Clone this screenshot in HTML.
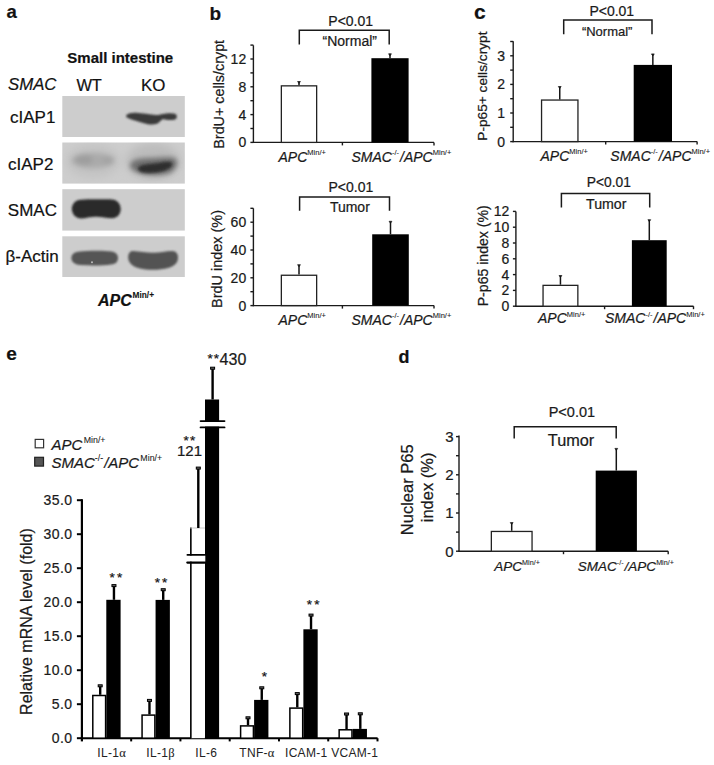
<!DOCTYPE html>
<html><head><meta charset="utf-8"><title>Figure</title>
<style>
html,body{margin:0;padding:0;background:#fff;}
body{width:714px;height:765px;overflow:hidden;}
svg{display:block;font-family:"Liberation Sans", sans-serif;}
text{stroke:#1a1a1a;stroke-width:0.22px;}
tspan[font-size]{stroke-width:0.08px;}
</style></head>
<body>
<svg width="714" height="765" viewBox="0 0 714 765">
<defs>
<clipPath id="p2"><rect x="62.3" y="142.5" width="122.5" height="41.1"/></clipPath>
<filter id="blur05" x="-100%" y="-100%" width="300%" height="300%"><feGaussianBlur stdDeviation="0.5"/></filter>
<filter id="blur1" x="-20%" y="-50%" width="140%" height="200%"><feGaussianBlur stdDeviation="0.9"/></filter>
<filter id="blur2" x="-20%" y="-50%" width="140%" height="200%"><feGaussianBlur stdDeviation="1.6"/></filter>
<filter id="blur3" x="-30%" y="-80%" width="160%" height="260%"><feGaussianBlur stdDeviation="2.6"/></filter>
<filter id="blur4" x="-40%" y="-80%" width="180%" height="260%"><feGaussianBlur stdDeviation="4"/></filter>
</defs>
<rect width="714" height="765" fill="#fff"/>
<text x="6.50" y="18.40" font-size="18.5" text-anchor="start" font-weight="bold" font-style="normal" fill="#111" >a</text>
<text x="209.50" y="19.80" font-size="19" text-anchor="start" font-weight="bold" font-style="normal" fill="#111" >b</text>
<text x="474.00" y="19.00" font-size="21" text-anchor="start" font-weight="bold" font-style="normal" fill="#111" >c</text>
<text x="6.30" y="359.70" font-size="19" text-anchor="start" font-weight="bold" font-style="normal" fill="#111" >e</text>
<text x="398.50" y="362.90" font-size="18" text-anchor="start" font-weight="bold" font-style="normal" fill="#111" >d</text>
<text x="67.30" y="63.00" font-size="15" text-anchor="start" font-weight="bold" font-style="normal" fill="#111" >Small intestine</text>
<text x="8.00" y="90.20" font-size="16.8" text-anchor="start" font-weight="normal" font-style="italic" fill="#111" >SMAC</text>
<text x="76.40" y="90.60" font-size="16.4" text-anchor="start" font-weight="normal" font-style="normal" fill="#111" >WT</text>
<text x="141.00" y="90.60" font-size="16.9" text-anchor="start" font-weight="normal" font-style="normal" fill="#111" >KO</text>
<text x="10.00" y="123.00" font-size="17" text-anchor="start" font-weight="normal" font-style="normal" fill="#111" >cIAP1</text>
<text x="8.00" y="169.50" font-size="17" text-anchor="start" font-weight="normal" font-style="normal" fill="#111" >cIAP2</text>
<text x="7.80" y="216.00" font-size="17" text-anchor="start" font-weight="normal" font-style="normal" fill="#111" >SMAC</text>
<text x="5.50" y="261.50" font-size="17" text-anchor="start" font-weight="normal" font-style="normal" fill="#111" >β-Actin</text>
<rect x="62.30" y="96.00" width="122.50" height="41.00" fill="#cdcdcd" stroke="none" stroke-width="0"/>
<rect x="62.30" y="142.50" width="122.50" height="41.10" fill="#cdcdcd" stroke="none" stroke-width="0"/>
<rect x="62.30" y="189.20" width="122.50" height="41.40" fill="#cdcdcd" stroke="none" stroke-width="0"/>
<rect x="62.30" y="236.30" width="122.50" height="40.70" fill="#cdcdcd" stroke="none" stroke-width="0"/>
<g clip-path="url(#p2)">
<g filter="url(#blur4)">
<ellipse cx="93" cy="161" rx="27" ry="17" fill="#c3c3c3"/>
<ellipse cx="153" cy="161" rx="27" ry="18" fill="#bcbcbc"/>
</g>
<g filter="url(#blur3)">
<ellipse cx="93" cy="160.5" rx="21.5" ry="7.8" fill="#ababab"/>
<ellipse cx="84" cy="159.8" rx="9" ry="5" fill="#9e9e9e"/>
<ellipse cx="108" cy="160.3" rx="6" ry="4.5" fill="#a4a4a4"/>
<path d="M130,165 C131,159 140,158 152,158 C162,158 172,156 176,159 C179,163 176,170 170,173 C162,176 148,176 139,173 C133,171 129.5,168 130,165 Z" fill="#707070"/>
</g>
<g filter="url(#blur2)">
<path d="M138,168 C139,164 150,164 158,163 C165,162 170,161 172,163 C173.5,166 169,169 164,171 C157,173 148,173.5 143,172.5 C139.5,171.5 137.5,170 138,168 Z" fill="#2e2e2e"/>
</g>
</g>
<g filter="url(#blur1)">
<path d="M126,116 C127,113.5 131,112.8 136,112.8 C142,113 150,114.8 156,115 C159,115 160,114.5 163,114 C166,113 172,112.8 175,113.8 C177.5,115 177.5,118.5 175,119.5 C171,120.5 166,120 163,119 C161,120 160,122 157,123.8 C153,125 148,124.5 144,123.2 C138,121.5 133,120 129,118.5 C127,117.8 126,117 126,116 Z" fill="#3a3a3a"/>
<path d="M80.5,199.8 C88,199.2 104,199.2 112,199.5 C117,199.8 120.7,203.5 120.7,209 C120.7,214.5 117,218.3 112,218.3 C106,218.3 102,216.8 96,216.8 C90,216.8 86,218.5 81,218.5 C76,218.5 71.8,214 71.8,209 C71.8,204 75.5,200.1 80.5,199.8 Z" fill="#2b2b2b"/>
<path d="M78,251.8 C88,250.5 104,250.5 112,251.5 C116.5,252.5 118,255 118,258 C118,261.5 116,264 111,264.5 C104,265.5 92,265.8 80,265 C74.5,264.5 71.4,262 71.4,258.3 C71.4,254.5 74,252.3 78,251.8 Z" fill="#555"/>
<path d="M133,251.0 C140,251.5 146,252.8 153,252.8 C160,252.8 166,251.0 172,251.0 C176.5,251.0 178,254 178,257.5 C178,262.5 175,266 168,268 C161,270 148,270.5 140,268.5 C133,267 128.2,263 128.2,257.5 C128.2,253.5 130,250.9 133,251.0 Z" fill="#525252"/>
</g>
<circle cx="92" cy="262.3" r="1.0" fill="#bbb" filter="url(#blur05)"/>
<text x="98.0" y="306.0" font-size="16" font-style="italic" font-weight="bold" fill="#111">APC<tspan font-style="normal" font-size="8.3" dy="-8" dx="0.8" font-weight="bold">Min/+</tspan></text>
<line x1="253.40" y1="45.30" x2="253.40" y2="143.00" stroke="#1a1a1a" stroke-width="1.4"/>
<line x1="252.80" y1="142.40" x2="434.00" y2="142.40" stroke="#1a1a1a" stroke-width="1.4"/>
<line x1="250.40" y1="142.40" x2="253.40" y2="142.40" stroke="#1a1a1a" stroke-width="1.4"/>
<line x1="250.40" y1="128.50" x2="253.40" y2="128.50" stroke="#1a1a1a" stroke-width="1.4"/>
<line x1="250.40" y1="114.60" x2="253.40" y2="114.60" stroke="#1a1a1a" stroke-width="1.4"/>
<line x1="250.40" y1="100.70" x2="253.40" y2="100.70" stroke="#1a1a1a" stroke-width="1.4"/>
<line x1="250.40" y1="86.80" x2="253.40" y2="86.80" stroke="#1a1a1a" stroke-width="1.4"/>
<line x1="250.40" y1="72.90" x2="253.40" y2="72.90" stroke="#1a1a1a" stroke-width="1.4"/>
<line x1="250.40" y1="59.00" x2="253.40" y2="59.00" stroke="#1a1a1a" stroke-width="1.4"/>
<line x1="250.40" y1="45.10" x2="253.40" y2="45.10" stroke="#1a1a1a" stroke-width="1.4"/>
<text x="246.20" y="147.44" font-size="14" text-anchor="end" font-weight="normal" font-style="normal" fill="#1a1a1a" >0</text>
<text x="246.20" y="119.64" font-size="14" text-anchor="end" font-weight="normal" font-style="normal" fill="#1a1a1a" >4</text>
<text x="246.20" y="91.84" font-size="14" text-anchor="end" font-weight="normal" font-style="normal" fill="#1a1a1a" >8</text>
<text x="246.20" y="64.04" font-size="14" text-anchor="end" font-weight="normal" font-style="normal" fill="#1a1a1a" >12</text>
<line x1="342.40" y1="142.40" x2="342.40" y2="145.40" stroke="#1a1a1a" stroke-width="1.4"/>
<line x1="434.00" y1="142.40" x2="434.00" y2="145.40" stroke="#1a1a1a" stroke-width="1.4"/>
<rect x="281.35" y="85.85" width="35.30" height="56.55" fill="#fff" stroke="#222" stroke-width="1.3"/>
<line x1="299.00" y1="85.20" x2="299.00" y2="82.30" stroke="#151515" stroke-width="1.5"/>
<path d="M297.60,81.50 L300.40,81.50 L299.00,83.50 Z" fill="#151515" stroke="#151515" stroke-width="0.7"/>
<rect x="371.40" y="58.20" width="37.20" height="84.20" fill="#000" stroke="none" stroke-width="0"/>
<line x1="390.00" y1="58.20" x2="390.00" y2="54.60" stroke="#151515" stroke-width="1.5"/>
<path d="M388.60,53.80 L391.40,53.80 L390.00,55.80 Z" fill="#151515" stroke="#151515" stroke-width="0.7"/>
<path d="M299.30,44.50 L299.30,30.30 L389.20,30.30 L389.20,44.50" fill="none" stroke="#1a1a1a" stroke-width="1.5"/>
<text x="328.30" y="25.70" font-size="14" text-anchor="start" font-weight="normal" font-style="normal" fill="#1a1a1a" >P&lt;0.01</text>
<text x="322.50" y="45.60" font-size="14" text-anchor="start" font-weight="normal" font-style="normal" fill="#1a1a1a" >“Normal”</text>
<text transform="translate(224.40,148.70) rotate(-90)" font-size="14.35" text-anchor="start" fill="#1a1a1a">BrdU+ cells/crypt</text>
<text x="278.50" y="161.60" font-size="14" font-style="italic" font-weight="normal" fill="#1a1a1a">APC<tspan font-style="normal" font-size="7.5" dy="-6.5" dx="0">Min/+</tspan></text>
<text x="351.50" y="161.50" font-size="14" font-style="italic" fill="#1a1a1a">SMAC<tspan font-style="normal" font-size="7.5" dy="-6.5">-/-</tspan><tspan dy="6.5" dx="1">/APC</tspan><tspan font-style="normal" font-size="7.5" dy="-6.5" dx="0">Min/+</tspan></text>
<line x1="253.40" y1="208.30" x2="253.40" y2="306.20" stroke="#1a1a1a" stroke-width="1.4"/>
<line x1="252.80" y1="305.60" x2="434.00" y2="305.60" stroke="#1a1a1a" stroke-width="1.4"/>
<line x1="250.40" y1="305.60" x2="253.40" y2="305.60" stroke="#1a1a1a" stroke-width="1.4"/>
<line x1="250.40" y1="291.70" x2="253.40" y2="291.70" stroke="#1a1a1a" stroke-width="1.4"/>
<line x1="250.40" y1="277.80" x2="253.40" y2="277.80" stroke="#1a1a1a" stroke-width="1.4"/>
<line x1="250.40" y1="263.90" x2="253.40" y2="263.90" stroke="#1a1a1a" stroke-width="1.4"/>
<line x1="250.40" y1="250.00" x2="253.40" y2="250.00" stroke="#1a1a1a" stroke-width="1.4"/>
<line x1="250.40" y1="236.10" x2="253.40" y2="236.10" stroke="#1a1a1a" stroke-width="1.4"/>
<line x1="250.40" y1="222.20" x2="253.40" y2="222.20" stroke="#1a1a1a" stroke-width="1.4"/>
<line x1="250.40" y1="208.30" x2="253.40" y2="208.30" stroke="#1a1a1a" stroke-width="1.4"/>
<text x="246.20" y="310.64" font-size="14" text-anchor="end" font-weight="normal" font-style="normal" fill="#1a1a1a" >0</text>
<text x="246.20" y="282.84" font-size="14" text-anchor="end" font-weight="normal" font-style="normal" fill="#1a1a1a" >20</text>
<text x="246.20" y="255.04" font-size="14" text-anchor="end" font-weight="normal" font-style="normal" fill="#1a1a1a" >40</text>
<text x="246.20" y="227.24" font-size="14" text-anchor="end" font-weight="normal" font-style="normal" fill="#1a1a1a" >60</text>
<line x1="342.40" y1="305.60" x2="342.40" y2="308.60" stroke="#1a1a1a" stroke-width="1.4"/>
<line x1="434.00" y1="305.60" x2="434.00" y2="308.60" stroke="#1a1a1a" stroke-width="1.4"/>
<rect x="281.35" y="275.25" width="35.30" height="30.35" fill="#fff" stroke="#222" stroke-width="1.3"/>
<line x1="299.00" y1="274.60" x2="299.00" y2="265.50" stroke="#151515" stroke-width="1.5"/>
<path d="M297.60,264.70 L300.40,264.70 L299.00,266.70 Z" fill="#151515" stroke="#151515" stroke-width="0.7"/>
<rect x="372.20" y="234.30" width="36.60" height="71.30" fill="#000" stroke="none" stroke-width="0"/>
<line x1="390.50" y1="234.30" x2="390.50" y2="222.10" stroke="#151515" stroke-width="1.5"/>
<path d="M389.10,221.30 L391.90,221.30 L390.50,223.30 Z" fill="#151515" stroke="#151515" stroke-width="0.7"/>
<path d="M299.60,210.80 L299.60,196.90 L389.50,196.90 L389.50,210.80" fill="none" stroke="#1a1a1a" stroke-width="1.5"/>
<text x="328.50" y="191.70" font-size="14" text-anchor="start" font-weight="normal" font-style="normal" fill="#1a1a1a" >P&lt;0.01</text>
<text x="329.90" y="211.90" font-size="14" text-anchor="start" font-weight="normal" font-style="normal" fill="#1a1a1a" >Tumor</text>
<text transform="translate(221.90,307.90) rotate(-90)" font-size="14.45" text-anchor="start" fill="#1a1a1a">BrdU index (%)</text>
<text x="278.50" y="324.70" font-size="14" font-style="italic" font-weight="normal" fill="#1a1a1a">APC<tspan font-style="normal" font-size="7.5" dy="-6.5" dx="0">Min/+</tspan></text>
<text x="351.50" y="324.70" font-size="14" font-style="italic" fill="#1a1a1a">SMAC<tspan font-style="normal" font-size="7.5" dy="-6.5">-/-</tspan><tspan dy="6.5" dx="1">/APC</tspan><tspan font-style="normal" font-size="7.5" dy="-6.5" dx="0">Min/+</tspan></text>
<line x1="513.20" y1="41.30" x2="513.20" y2="142.20" stroke="#1a1a1a" stroke-width="1.4"/>
<line x1="512.60" y1="141.60" x2="697.10" y2="141.60" stroke="#1a1a1a" stroke-width="1.4"/>
<line x1="510.20" y1="141.60" x2="513.20" y2="141.60" stroke="#1a1a1a" stroke-width="1.4"/>
<line x1="510.20" y1="127.30" x2="513.20" y2="127.30" stroke="#1a1a1a" stroke-width="1.4"/>
<line x1="510.20" y1="113.00" x2="513.20" y2="113.00" stroke="#1a1a1a" stroke-width="1.4"/>
<line x1="510.20" y1="98.70" x2="513.20" y2="98.70" stroke="#1a1a1a" stroke-width="1.4"/>
<line x1="510.20" y1="84.40" x2="513.20" y2="84.40" stroke="#1a1a1a" stroke-width="1.4"/>
<line x1="510.20" y1="70.10" x2="513.20" y2="70.10" stroke="#1a1a1a" stroke-width="1.4"/>
<line x1="510.20" y1="55.80" x2="513.20" y2="55.80" stroke="#1a1a1a" stroke-width="1.4"/>
<line x1="510.20" y1="41.50" x2="513.20" y2="41.50" stroke="#1a1a1a" stroke-width="1.4"/>
<text x="505.00" y="146.64" font-size="14" text-anchor="end" font-weight="normal" font-style="normal" fill="#1a1a1a" >0</text>
<text x="505.00" y="118.04" font-size="14" text-anchor="end" font-weight="normal" font-style="normal" fill="#1a1a1a" >1</text>
<text x="505.00" y="89.44" font-size="14" text-anchor="end" font-weight="normal" font-style="normal" fill="#1a1a1a" >2</text>
<text x="505.00" y="60.84" font-size="14" text-anchor="end" font-weight="normal" font-style="normal" fill="#1a1a1a" >3</text>
<line x1="605.70" y1="141.60" x2="605.70" y2="144.60" stroke="#1a1a1a" stroke-width="1.4"/>
<line x1="697.10" y1="141.60" x2="697.10" y2="144.60" stroke="#1a1a1a" stroke-width="1.4"/>
<rect x="541.55" y="100.05" width="36.40" height="41.55" fill="#fff" stroke="#222" stroke-width="1.3"/>
<line x1="559.75" y1="99.40" x2="559.75" y2="87.30" stroke="#151515" stroke-width="1.5"/>
<path d="M558.35,86.50 L561.15,86.50 L559.75,88.50 Z" fill="#151515" stroke="#151515" stroke-width="0.7"/>
<rect x="633.70" y="64.90" width="38.30" height="76.70" fill="#000" stroke="none" stroke-width="0"/>
<line x1="652.85" y1="64.90" x2="652.85" y2="54.70" stroke="#151515" stroke-width="1.5"/>
<path d="M651.45,53.90 L654.25,53.90 L652.85,55.90 Z" fill="#151515" stroke="#151515" stroke-width="0.7"/>
<path d="M563.70,34.30 L563.70,20.00 L652.00,20.00 L652.00,34.30" fill="none" stroke="#1a1a1a" stroke-width="1.5"/>
<text x="589.40" y="15.70" font-size="14" text-anchor="start" font-weight="normal" font-style="normal" fill="#1a1a1a" >P&lt;0.01</text>
<text x="581.90" y="36.20" font-size="13" text-anchor="start" font-weight="normal" font-style="normal" fill="#1a1a1a" >“Normal”</text>
<text transform="translate(487.30,140.70) rotate(-90)" font-size="13.7" text-anchor="start" fill="#1a1a1a">P-p65+ cells/crypt</text>
<text x="540.50" y="160.60" font-size="14" font-style="italic" font-weight="normal" fill="#1a1a1a">APC<tspan font-style="normal" font-size="7.5" dy="-6.5" dx="0">Min/+</tspan></text>
<text x="610.30" y="160.60" font-size="14" font-style="italic" fill="#1a1a1a">SMAC<tspan font-style="normal" font-size="7.5" dy="-6.5">-/-</tspan><tspan dy="6.5" dx="1">/APC</tspan><tspan font-style="normal" font-size="7.5" dy="-6.5" dx="0">Min/+</tspan></text>
<line x1="515.90" y1="211.60" x2="515.90" y2="306.80" stroke="#1a1a1a" stroke-width="1.4"/>
<line x1="515.30" y1="306.20" x2="693.50" y2="306.20" stroke="#1a1a1a" stroke-width="1.4"/>
<line x1="512.90" y1="306.20" x2="515.90" y2="306.20" stroke="#1a1a1a" stroke-width="1.4"/>
<line x1="512.90" y1="290.40" x2="515.90" y2="290.40" stroke="#1a1a1a" stroke-width="1.4"/>
<line x1="512.90" y1="274.60" x2="515.90" y2="274.60" stroke="#1a1a1a" stroke-width="1.4"/>
<line x1="512.90" y1="258.80" x2="515.90" y2="258.80" stroke="#1a1a1a" stroke-width="1.4"/>
<line x1="512.90" y1="243.00" x2="515.90" y2="243.00" stroke="#1a1a1a" stroke-width="1.4"/>
<line x1="512.90" y1="227.20" x2="515.90" y2="227.20" stroke="#1a1a1a" stroke-width="1.4"/>
<line x1="512.90" y1="211.40" x2="515.90" y2="211.40" stroke="#1a1a1a" stroke-width="1.4"/>
<text x="509.30" y="311.24" font-size="14" text-anchor="end" font-weight="normal" font-style="normal" fill="#1a1a1a" >0</text>
<text x="509.30" y="295.44" font-size="14" text-anchor="end" font-weight="normal" font-style="normal" fill="#1a1a1a" >2</text>
<text x="509.30" y="279.64" font-size="14" text-anchor="end" font-weight="normal" font-style="normal" fill="#1a1a1a" >4</text>
<text x="509.30" y="263.84" font-size="14" text-anchor="end" font-weight="normal" font-style="normal" fill="#1a1a1a" >6</text>
<text x="509.30" y="248.04" font-size="14" text-anchor="end" font-weight="normal" font-style="normal" fill="#1a1a1a" >8</text>
<text x="509.30" y="232.24" font-size="14" text-anchor="end" font-weight="normal" font-style="normal" fill="#1a1a1a" >10</text>
<text x="509.30" y="216.44" font-size="14" text-anchor="end" font-weight="normal" font-style="normal" fill="#1a1a1a" >12</text>
<line x1="604.60" y1="306.20" x2="604.60" y2="309.20" stroke="#1a1a1a" stroke-width="1.4"/>
<line x1="693.50" y1="306.20" x2="693.50" y2="309.20" stroke="#1a1a1a" stroke-width="1.4"/>
<rect x="543.05" y="285.35" width="34.80" height="20.85" fill="#fff" stroke="#222" stroke-width="1.3"/>
<line x1="560.45" y1="284.70" x2="560.45" y2="276.30" stroke="#151515" stroke-width="1.5"/>
<path d="M559.05,275.50 L561.85,275.50 L560.45,277.50 Z" fill="#151515" stroke="#151515" stroke-width="0.7"/>
<rect x="631.90" y="240.20" width="34.80" height="66.00" fill="#000" stroke="none" stroke-width="0"/>
<line x1="649.30" y1="240.20" x2="649.30" y2="220.50" stroke="#151515" stroke-width="1.5"/>
<path d="M647.90,219.70 L650.70,219.70 L649.30,221.70 Z" fill="#151515" stroke="#151515" stroke-width="0.7"/>
<path d="M561.40,207.60 L561.40,193.50 L649.70,193.50 L649.70,207.60" fill="none" stroke="#1a1a1a" stroke-width="1.5"/>
<text x="586.80" y="186.50" font-size="13.8" text-anchor="start" font-weight="normal" font-style="normal" fill="#1a1a1a" >P&lt;0.01</text>
<text x="586.00" y="208.70" font-size="14.2" text-anchor="start" font-weight="normal" font-style="normal" fill="#1a1a1a" >Tumor</text>
<text transform="translate(488.40,306.30) rotate(-90)" font-size="14.1" text-anchor="start" fill="#1a1a1a">P-p65 index (%)</text>
<text x="538.00" y="323.40" font-size="14" font-style="italic" font-weight="normal" fill="#1a1a1a">APC<tspan font-style="normal" font-size="7.5" dy="-6.5" dx="0">Min/+</tspan></text>
<text x="605.00" y="323.40" font-size="14" font-style="italic" fill="#1a1a1a">SMAC<tspan font-style="normal" font-size="7.5" dy="-6.5">-/-</tspan><tspan dy="6.5" dx="1">/APC</tspan><tspan font-style="normal" font-size="7.5" dy="-6.5" dx="0">Min/+</tspan></text>
<line x1="459.00" y1="435.50" x2="459.00" y2="551.80" stroke="#1a1a1a" stroke-width="1.4"/>
<line x1="458.40" y1="551.20" x2="668.20" y2="551.20" stroke="#1a1a1a" stroke-width="1.4"/>
<line x1="456.00" y1="551.20" x2="459.00" y2="551.20" stroke="#1a1a1a" stroke-width="1.4"/>
<line x1="456.00" y1="532.10" x2="459.00" y2="532.10" stroke="#1a1a1a" stroke-width="1.4"/>
<line x1="456.00" y1="513.00" x2="459.00" y2="513.00" stroke="#1a1a1a" stroke-width="1.4"/>
<line x1="456.00" y1="493.90" x2="459.00" y2="493.90" stroke="#1a1a1a" stroke-width="1.4"/>
<line x1="456.00" y1="474.80" x2="459.00" y2="474.80" stroke="#1a1a1a" stroke-width="1.4"/>
<line x1="456.00" y1="455.70" x2="459.00" y2="455.70" stroke="#1a1a1a" stroke-width="1.4"/>
<line x1="456.00" y1="436.60" x2="459.00" y2="436.60" stroke="#1a1a1a" stroke-width="1.4"/>
<text x="453.50" y="556.60" font-size="15" text-anchor="end" font-weight="normal" font-style="normal" fill="#1a1a1a" >0</text>
<text x="453.50" y="518.40" font-size="15" text-anchor="end" font-weight="normal" font-style="normal" fill="#1a1a1a" >1</text>
<text x="453.50" y="480.20" font-size="15" text-anchor="end" font-weight="normal" font-style="normal" fill="#1a1a1a" >2</text>
<text x="453.50" y="442.00" font-size="15" text-anchor="end" font-weight="normal" font-style="normal" fill="#1a1a1a" >3</text>
<line x1="563.50" y1="551.20" x2="563.50" y2="554.20" stroke="#1a1a1a" stroke-width="1.4"/>
<line x1="668.20" y1="551.20" x2="668.20" y2="554.20" stroke="#1a1a1a" stroke-width="1.4"/>
<rect x="491.35" y="531.45" width="40.70" height="19.75" fill="#fff" stroke="#222" stroke-width="1.3"/>
<line x1="511.70" y1="530.80" x2="511.70" y2="523.40" stroke="#151515" stroke-width="1.5"/>
<path d="M510.30,522.60 L513.10,522.60 L511.70,524.60 Z" fill="#151515" stroke="#151515" stroke-width="0.7"/>
<rect x="595.70" y="470.60" width="41.20" height="80.60" fill="#000" stroke="none" stroke-width="0"/>
<line x1="616.30" y1="470.60" x2="616.30" y2="449.20" stroke="#151515" stroke-width="1.5"/>
<path d="M614.90,448.40 L617.70,448.40 L616.30,450.40 Z" fill="#151515" stroke="#151515" stroke-width="0.7"/>
<path d="M514.20,438.50 L514.20,426.80 L616.20,426.80 L616.20,438.50" fill="none" stroke="#1a1a1a" stroke-width="1.5"/>
<text x="548.70" y="417.00" font-size="14.5" text-anchor="start" font-weight="normal" font-style="normal" fill="#1a1a1a" >P&lt;0.01</text>
<text x="547.80" y="445.90" font-size="16.3" text-anchor="start" font-weight="normal" font-style="normal" fill="#1a1a1a" >Tumor</text>
<text transform="translate(413.0,489.8) rotate(-90)" font-size="16.5" text-anchor="middle" fill="#1a1a1a">Nuclear P65</text>
<text transform="translate(432.8,487.4) rotate(-90)" font-size="16.5" text-anchor="middle" fill="#1a1a1a">index (%)</text>
<text x="494.30" y="570.80" font-size="13.5" font-style="italic" font-weight="normal" fill="#1a1a1a">APC<tspan font-style="normal" font-size="7.2" dy="-6.2" dx="0">Min/+</tspan></text>
<text x="577.80" y="570.80" font-size="13.5" font-style="italic" fill="#1a1a1a">SMAC<tspan font-style="normal" font-size="7.2" dy="-6.2">-/-</tspan><tspan dy="6.2" dx="1">/APC</tspan><tspan font-style="normal" font-size="7.2" dy="-6.2" dx="0">Min/+</tspan></text>
<line x1="81.90" y1="499.20" x2="81.90" y2="741.40" stroke="#000" stroke-width="2.2"/>
<line x1="76.90" y1="738.20" x2="81.90" y2="738.20" stroke="#000" stroke-width="2.0"/>
<text x="72.60" y="743.24" font-size="14" text-anchor="end" font-weight="normal" font-style="normal" fill="#1a1a1a" letter-spacing="0.45">0.0</text>
<line x1="76.90" y1="704.20" x2="81.90" y2="704.20" stroke="#000" stroke-width="2.0"/>
<text x="72.60" y="709.24" font-size="14" text-anchor="end" font-weight="normal" font-style="normal" fill="#1a1a1a" letter-spacing="0.45">5.0</text>
<line x1="76.90" y1="670.20" x2="81.90" y2="670.20" stroke="#000" stroke-width="2.0"/>
<text x="72.60" y="675.24" font-size="14" text-anchor="end" font-weight="normal" font-style="normal" fill="#1a1a1a" letter-spacing="0.45">10.0</text>
<line x1="76.90" y1="636.20" x2="81.90" y2="636.20" stroke="#000" stroke-width="2.0"/>
<text x="72.60" y="641.24" font-size="14" text-anchor="end" font-weight="normal" font-style="normal" fill="#1a1a1a" letter-spacing="0.45">15.0</text>
<line x1="76.90" y1="602.20" x2="81.90" y2="602.20" stroke="#000" stroke-width="2.0"/>
<text x="72.60" y="607.24" font-size="14" text-anchor="end" font-weight="normal" font-style="normal" fill="#1a1a1a" letter-spacing="0.45">20.0</text>
<line x1="76.90" y1="568.20" x2="81.90" y2="568.20" stroke="#000" stroke-width="2.0"/>
<text x="72.60" y="573.24" font-size="14" text-anchor="end" font-weight="normal" font-style="normal" fill="#1a1a1a" letter-spacing="0.45">25.0</text>
<line x1="76.90" y1="534.20" x2="81.90" y2="534.20" stroke="#000" stroke-width="2.0"/>
<text x="72.60" y="539.24" font-size="14" text-anchor="end" font-weight="normal" font-style="normal" fill="#1a1a1a" letter-spacing="0.45">30.0</text>
<line x1="76.90" y1="500.20" x2="81.90" y2="500.20" stroke="#000" stroke-width="2.0"/>
<text x="72.60" y="505.24" font-size="14" text-anchor="end" font-weight="normal" font-style="normal" fill="#1a1a1a" letter-spacing="0.45">35.0</text>
<line x1="80.90" y1="738.20" x2="377.60" y2="738.20" stroke="#000" stroke-width="2.0"/>
<line x1="131.17" y1="738.20" x2="131.17" y2="741.40" stroke="#000" stroke-width="2.0"/>
<line x1="180.43" y1="738.20" x2="180.43" y2="741.40" stroke="#000" stroke-width="2.0"/>
<line x1="229.70" y1="738.20" x2="229.70" y2="741.40" stroke="#000" stroke-width="2.0"/>
<line x1="278.97" y1="738.20" x2="278.97" y2="741.40" stroke="#000" stroke-width="2.0"/>
<line x1="328.23" y1="738.20" x2="328.23" y2="741.40" stroke="#000" stroke-width="2.0"/>
<line x1="377.50" y1="738.20" x2="377.50" y2="741.40" stroke="#000" stroke-width="2.0"/>
<text transform="translate(32.10,714.90) rotate(-90)" font-size="16" text-anchor="start" fill="#1a1a1a">Relative mRNA level (fold)</text>
<rect x="92.80" y="695.50" width="12.80" height="42.70" fill="#fff" stroke="#000" stroke-width="1.5"/>
<line x1="100.20" y1="694.80" x2="100.20" y2="685.80" stroke="#000" stroke-width="2.4"/>
<rect x="98.20" y="684.80" width="4.0" height="2.0" fill="#666" stroke="#000" stroke-width="1.0"/>
<rect x="106.30" y="599.80" width="14.30" height="138.40" fill="#000" stroke="none" stroke-width="0"/>
<line x1="113.95" y1="599.80" x2="113.95" y2="585.60" stroke="#000" stroke-width="2.4"/>
<rect x="111.95" y="584.60" width="4.0" height="2.0" fill="#666" stroke="#000" stroke-width="1.0"/>
<rect x="142.07" y="715.10" width="12.80" height="23.10" fill="#fff" stroke="#000" stroke-width="1.5"/>
<line x1="149.47" y1="714.40" x2="149.47" y2="700.40" stroke="#000" stroke-width="2.4"/>
<rect x="147.47" y="699.40" width="4.0" height="2.0" fill="#666" stroke="#000" stroke-width="1.0"/>
<rect x="155.57" y="599.90" width="14.30" height="138.30" fill="#000" stroke="none" stroke-width="0"/>
<line x1="163.22" y1="599.90" x2="163.22" y2="589.70" stroke="#000" stroke-width="2.4"/>
<rect x="161.22" y="588.70" width="4.0" height="2.0" fill="#666" stroke="#000" stroke-width="1.0"/>
<rect x="240.61" y="725.90" width="12.80" height="12.30" fill="#fff" stroke="#000" stroke-width="1.5"/>
<line x1="248.01" y1="725.20" x2="248.01" y2="717.80" stroke="#000" stroke-width="2.4"/>
<rect x="246.01" y="716.80" width="4.0" height="2.0" fill="#666" stroke="#000" stroke-width="1.0"/>
<rect x="254.11" y="699.90" width="14.30" height="38.30" fill="#000" stroke="none" stroke-width="0"/>
<line x1="261.76" y1="699.90" x2="261.76" y2="687.80" stroke="#000" stroke-width="2.4"/>
<rect x="259.76" y="686.80" width="4.0" height="2.0" fill="#666" stroke="#000" stroke-width="1.0"/>
<rect x="289.88" y="708.10" width="12.80" height="30.10" fill="#fff" stroke="#000" stroke-width="1.5"/>
<line x1="297.28" y1="707.40" x2="297.28" y2="693.60" stroke="#000" stroke-width="2.4"/>
<rect x="295.28" y="692.60" width="4.0" height="2.0" fill="#666" stroke="#000" stroke-width="1.0"/>
<rect x="303.38" y="629.30" width="14.30" height="108.90" fill="#000" stroke="none" stroke-width="0"/>
<line x1="311.03" y1="629.30" x2="311.03" y2="615.10" stroke="#000" stroke-width="2.4"/>
<rect x="309.03" y="614.10" width="4.0" height="2.0" fill="#666" stroke="#000" stroke-width="1.0"/>
<rect x="339.15" y="729.80" width="12.80" height="8.40" fill="#fff" stroke="#000" stroke-width="1.5"/>
<line x1="346.55" y1="729.10" x2="346.55" y2="714.00" stroke="#000" stroke-width="2.4"/>
<rect x="344.55" y="713.00" width="4.0" height="2.0" fill="#666" stroke="#000" stroke-width="1.0"/>
<rect x="352.65" y="728.90" width="14.30" height="9.30" fill="#000" stroke="none" stroke-width="0"/>
<line x1="360.30" y1="728.90" x2="360.30" y2="713.80" stroke="#000" stroke-width="2.4"/>
<rect x="358.30" y="712.80" width="4.0" height="2.0" fill="#666" stroke="#000" stroke-width="1.0"/>
<rect x="205.00" y="399.50" width="14.10" height="338.70" fill="#000" stroke="none" stroke-width="0"/>
<rect x="199.50" y="422.00" width="26.50" height="4.60" fill="#fff" stroke="none" stroke-width="0"/>
<line x1="200.6" y1="421.1" x2="224.5" y2="421.1" stroke="#000" stroke-width="1.9" stroke-linecap="round"/>
<line x1="200.6" y1="427.4" x2="224.5" y2="427.4" stroke="#000" stroke-width="1.9" stroke-linecap="round"/>
<line x1="212.60" y1="399.50" x2="212.60" y2="368.20" stroke="#000" stroke-width="2.4"/>
<rect x="210.60" y="367.20" width="4.0" height="2.0" fill="#666" stroke="#000" stroke-width="1.0"/>
<rect x="190.85" y="528.0" width="14.05" height="210.20" fill="#fff" stroke="none"/>
<line x1="190.85" y1="527.60" x2="190.85" y2="738.20" stroke="#000" stroke-width="1.6"/>
<line x1="190.10" y1="528.00" x2="204.90" y2="528.00" stroke="#bbb" stroke-width="0.8"/>
<rect x="186.30" y="555.60" width="19.00" height="6.00" fill="#fff" stroke="none" stroke-width="0"/>
<line x1="187.3" y1="554.9" x2="204.6" y2="554.9" stroke="#000" stroke-width="1.6" stroke-linecap="round"/>
<line x1="187.3" y1="562.6" x2="204.6" y2="562.6" stroke="#000" stroke-width="2.2" stroke-linecap="round"/>
<line x1="198.30" y1="528.00" x2="198.30" y2="468.10" stroke="#000" stroke-width="2.4"/>
<rect x="196.30" y="467.10" width="4.0" height="2.0" fill="#666" stroke="#000" stroke-width="1.0"/>
<text x="112.25" y="582.05" font-size="13.5" text-anchor="middle" font-weight="normal" font-style="normal" fill="#111" >*</text>
<text x="119.65" y="582.05" font-size="13.5" text-anchor="middle" font-weight="normal" font-style="normal" fill="#111" >*</text>
<text x="157.45" y="587.15" font-size="13.5" text-anchor="middle" font-weight="normal" font-style="normal" fill="#111" >*</text>
<text x="164.65" y="587.15" font-size="13.5" text-anchor="middle" font-weight="normal" font-style="normal" fill="#111" >*</text>
<text x="264.45" y="681.15" font-size="13.5" text-anchor="middle" font-weight="normal" font-style="normal" fill="#111" >*</text>
<text x="309.35" y="608.85" font-size="13.5" text-anchor="middle" font-weight="normal" font-style="normal" fill="#111" >*</text>
<text x="316.85" y="608.85" font-size="13.5" text-anchor="middle" font-weight="normal" font-style="normal" fill="#111" >*</text>
<text x="186.15" y="444.85" font-size="13.5" text-anchor="middle" font-weight="normal" font-style="normal" fill="#111" >*</text>
<text x="192.65" y="444.85" font-size="13.5" text-anchor="middle" font-weight="normal" font-style="normal" fill="#111" >*</text>
<text x="210.05" y="363.25" font-size="13.5" text-anchor="middle" font-weight="normal" font-style="normal" fill="#111" >*</text>
<text x="216.45" y="363.25" font-size="13.5" text-anchor="middle" font-weight="normal" font-style="normal" fill="#111" >*</text>
<text x="177.00" y="456.30" font-size="15" text-anchor="start" font-weight="normal" font-style="normal" fill="#1a1a1a" >121</text>
<text x="219.60" y="365.20" font-size="16" text-anchor="start" font-weight="normal" font-style="normal" fill="#1a1a1a" >430</text>
<text x="97.30" y="756.6" font-size="12" fill="#222" letter-spacing="0.3" style="stroke-width:0">IL-1<tspan font-family="Liberation Serif" font-size="12.5">α</tspan></text>
<text x="146.30" y="756.6" font-size="12" fill="#222" letter-spacing="0.3" style="stroke-width:0">IL-1<tspan font-family="Liberation Serif" font-size="12.5">β</tspan></text>
<text x="195.30" y="756.60" font-size="12" text-anchor="start" font-weight="normal" font-style="normal" fill="#222" letter-spacing="0.3" style="stroke-width:0">IL-6</text>
<text x="239.30" y="756.6" font-size="12" fill="#222" letter-spacing="0.3" style="stroke-width:0">TNF-<tspan font-family="Liberation Serif" font-size="12.5">α</tspan></text>
<text x="285.00" y="756.60" font-size="12" text-anchor="start" font-weight="normal" font-style="normal" fill="#222" letter-spacing="0.3" style="stroke-width:0">ICAM-1</text>
<text x="331.20" y="756.60" font-size="12" text-anchor="start" font-weight="normal" font-style="normal" fill="#222" letter-spacing="0.3" style="stroke-width:0">VCAM-1</text>
<rect x="35.2" y="439.4" width="8.4" height="8.4" fill="#fff" stroke="#333" stroke-width="1.2"/>
<rect x="34.7" y="457.3" width="8.8" height="8.8" fill="#555" stroke="#222" stroke-width="1.2"/>
<text x="51.50" y="450.20" font-size="15" font-style="italic" font-weight="normal" fill="#1a1a1a">APC<tspan font-style="normal" font-size="8.8" dy="-7.6" dx="1.4">Min/+</tspan></text>
<text x="51.50" y="468.10" font-size="15" font-style="italic" fill="#1a1a1a">SMAC<tspan font-style="normal" font-size="8.8" dy="-7.6">-/-</tspan><tspan dy="7.6" dx="1">/APC</tspan><tspan font-style="normal" font-size="8.8" dy="-7.6" dx="1.2">Min/+</tspan></text>
</svg>
</body></html>
